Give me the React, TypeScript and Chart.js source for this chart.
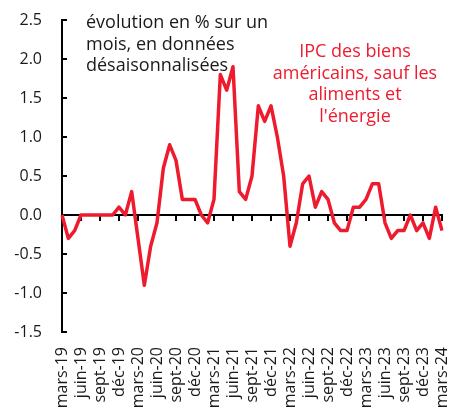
import React, { useEffect, useRef } from "react";
import { Chart, registerables } from "chart.js";

Chart.register(...registerables);

const months = ["janv", "févr", "mars", "avr", "mai", "juin", "juil", "août", "sept", "oct", "nov", "déc"];
const tickMonthNames: Record<number, string> = { 2: "mars", 5: "juin", 8: "sept", 11: "déc" };

// monthly labels from mars-19 to mars-24
const categories: string[] = [];
for (let y = 2019; y <= 2024; y++) {
  for (let m = 0; m < 12; m++) {
    if ((y === 2019 && m < 2) || (y === 2024 && m > 2)) continue;
    categories.push(`${months[m]}-${String(y).slice(2)}`);
  }
}

const coreGoodsCpi = [
  0.0, -0.3, -0.2, 0.0, 0.0, 0.0, 0.0, 0.0, 0.0, 0.1, 0.0, 0.3,
  -0.3, -0.9, -0.4, -0.1, 0.6, 0.9, 0.7, 0.2, 0.2, 0.2, 0.0, -0.1,
  0.2, 1.8, 1.6, 1.9, 0.3, 0.2, 0.5, 1.4, 1.2, 1.4, 1.0, 0.5,
  -0.4, -0.1, 0.4, 0.5, 0.1, 0.3, 0.2, -0.1, -0.2, -0.2, 0.1, 0.1,
  0.2, 0.4, 0.4, -0.1, -0.3, -0.2, -0.2, 0.0, -0.2, -0.1, -0.3, 0.1,
  -0.2,
];

const yMin = -1.5;
const yMax = 2.5;
const yStep = 0.5;

const noteLines = ["évolution en % sur un", "mois, en données", "désaisonnalisées"];
const seriesLabelLines = ["IPC des biens", "américains, sauf les", "aliments et", "l'énergie"];

const RED = "#EE1B2E";
const FONT = "'Open Sans', sans-serif";

function tickLabel(cat: string): string {
  const [m, yy] = cat.split("-");
  const idx = months.indexOf(m);
  return tickMonthNames[idx] ? `${tickMonthNames[idx]}-${yy}` : "";
}

const textPlugin = {
  id: "annotText",
  afterDraw(chart: any) {
    const ctx = chart.ctx;
    const area = chart.chartArea;
    ctx.save();
    ctx.font = `18px ${FONT}`;
    ctx.textBaseline = "alphabetic";
    ctx.fillStyle = "#1a1a1a";
    ctx.textAlign = "left";
    noteLines.forEach((t, i) => ctx.fillText(t, area.left + 24, 28 + i * 21.5));
    ctx.fillStyle = RED;
    ctx.textAlign = "center";
    seriesLabelLines.forEach((t, i) => ctx.fillText(t, 355, 57 + i * 21.7));
    ctx.restore();
  },
};

const zeroPadding = (s: any) => {
  s.paddingTop = 0;
  s.paddingBottom = 0;
  s.paddingLeft = 0;
  s.paddingRight = 0;
};

export default function App() {
  const ref = useRef<HTMLCanvasElement>(null);
  useEffect(() => {
    document.body.style.margin = "0";
    const chart = new Chart(ref.current!, {
      type: "line",
      data: {
        labels: categories,
        datasets: [
          {
            data: coreGoodsCpi,
            borderColor: RED,
            backgroundColor: RED,
            borderWidth: 3.5,
            borderJoinStyle: "round",
            pointRadius: 0,
            tension: 0,
            xAxisID: "x",
            yAxisID: "y",
          },
        ],
      },
      options: {
        animation: false,
        responsive: false,
        layout: { padding: { top: 20, right: 9, left: 0, bottom: 0 } },
        plugins: { legend: { display: false }, tooltip: { enabled: false } },
        scales: {
          x: {
            type: "category",
            position: "bottom",
            offset: false,
            grid: { display: false, drawTicks: false },
            border: { display: false },
            ticks: {
              autoSkip: false,
              minRotation: 90,
              maxRotation: 90,
              padding: 15,
              color: "#1a1a1a",
              font: { family: FONT, size: 16 },
              callback: (_v: any, i: number) => tickLabel(categories[i]),
            },
            afterFit: (s: any) => {
              s.height = 78;
              zeroPadding(s);
            },
          },
          x2: {
            type: "category",
            position: { y: 0 } as any,
            offset: false,
            grid: {
              drawOnChartArea: false,
              drawTicks: true,
              tickLength: 5,
              lineWidth: 2,
              color: (c: any) => (tickLabel(categories[c.index] || "") ? "#000" : "rgba(0,0,0,0)"),
            },
            border: { display: true, color: "#000", width: 2 },
            ticks: { display: false, autoSkip: false },
            afterFit: zeroPadding,
          },
          y: {
            min: yMin,
            max: yMax,
            position: "left",
            grid: { drawOnChartArea: false, drawTicks: true, tickLength: -5, lineWidth: 2, color: "#000" },
            border: { display: true, color: "#000", width: 2 },
            ticks: {
              stepSize: yStep,
              padding: 25,
              color: "#1a1a1a",
              font: { family: FONT, size: 16 },
              callback: (v: any) => Number(v).toFixed(1),
            },
            afterFit: (s: any) => {
              s.width = 62;
              zeroPadding(s);
            },
          },
        },
      },
      plugins: [textPlugin],
    });
    return () => chart.destroy();
  }, []);
  return (
    <div style={{ width: 451, height: 410 }}>
      <canvas ref={ref} width={451} height={410} />
    </div>
  );
}
